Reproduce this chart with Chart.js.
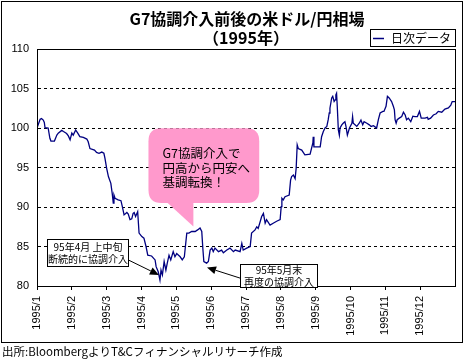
<!DOCTYPE html>
<html><head><meta charset="utf-8">
<script src="https://cdn.jsdelivr.net/npm/chart.js@4"></script>
<style>html,body{margin:0;padding:0;background:#fff}canvas{display:block}</style>
</head><body>
<canvas id="c" width="468" height="362"></canvas>
<script>
const titleLines = ['G7協調介入前後の米ドル/円相場', '（1995年）'];
const legendLabel = '日次データ';
const sourceNote = '出所:BloombergよりT&Cフィナンシャルリサーチ作成';
const monthLabels = ['1995/1','1995/2','1995/3','1995/4','1995/5','1995/6','1995/7','1995/8','1995/9','1995/10','1995/11','1995/12'];
const yTicks = [80, 85, 90, 95, 100, 105, 110];
const calloutLines = ['G7協調介入で', '円高から円安へ', '基調転換！'];
const note1Lines = ['95年4月 上中旬', '断続的に協調介入'];
const note2Lines = ['95年5月末', '再度の協調介入'];

// x position in months since 1995/1/1
const monthPos = [0.00,0.09,0.13,0.18,0.21,0.23,0.32,0.37,0.40,0.50,
0.57,0.61,0.71,0.76,0.85,0.90,0.95,1.00,1.04,1.11,
1.17,1.23,1.33,1.43,1.47,1.52,1.65,1.71,1.78,1.86,
1.92,1.95,2.00,2.05,2.12,2.16,2.19,2.21,2.24,2.33,
2.41,2.45,2.50,2.58,2.62,2.67,2.72,2.76,2.79,2.83,
2.89,2.93,3.01,3.07,3.13,3.18,3.29,3.39,3.42,3.48,
3.53,3.56,3.60,3.65,3.70,3.74,3.79,3.84,3.91,3.96,
4.01,4.11,4.17,4.23,4.30,4.36,4.44,4.54,4.61,4.68,
4.73,4.76,4.79,4.87,4.92,4.97,5.02,5.06,5.11,5.21,
5.30,5.35,5.45,5.54,5.64,5.69,5.83,5.88,5.92,6.02,
6.12,6.16,6.26,6.31,6.35,6.45,6.50,6.55,6.59,6.69,
6.78,6.88,6.98,7.01,7.03,7.07,7.12,7.24,7.28,7.31,
7.36,7.41,7.44,7.47,7.50,7.60,7.69,7.84,7.92,7.93,
7.95,8.03,8.13,8.17,8.22,8.27,8.32,8.36,8.39,8.41,
8.46,8.49,8.53,8.56,8.58,8.60,8.62,8.65,8.68,8.70,
8.75,8.79,8.84,8.87,8.91,8.97,9.04,9.06,9.08,9.13,
9.18,9.25,9.30,9.35,9.39,9.47,9.54,9.59,9.66,9.75,
9.80,9.85,9.93,9.96,10.02,10.06,10.11,10.18,10.23,10.26,
10.28,10.31,10.34,10.40,10.47,10.52,10.57,10.61,10.66,10.73,
10.79,10.85,10.92,10.98,11.03,11.14,11.21,11.23,11.30,11.38,
11.46,11.52,11.62,11.71,11.81,11.88,11.92,12.00];

const usdJpy = [100.0,101.1,101.2,101.0,100.7,100.05,100.0,98.7,98.35,98.35,
99.1,99.35,99.7,99.55,99.3,99.0,98.5,99.35,99.1,99.75,
99.35,98.9,98.8,98.6,98.25,97.4,97.2,96.9,96.8,96.95,
96.8,96.2,94.9,93.85,93.0,91.7,90.5,91.5,91.1,90.9,
90.8,90.05,89.0,89.3,89.1,88.4,88.5,89.2,89.3,88.8,
89.4,86.7,86.25,86.05,85.0,83.9,83.8,83.3,82.45,81.8,
80.75,82.0,81.4,83.1,82.0,82.9,83.9,83.3,84.35,83.7,
84.1,83.7,83.3,83.7,86.7,86.7,86.9,86.9,87.1,87.35,
86.9,84.8,83.1,82.9,83.1,84.55,84.8,84.35,84.8,84.35,
84.55,84.2,84.55,84.8,84.35,84.55,84.35,85.4,84.55,84.8,
85.0,86.7,87.1,87.5,87.3,88.8,89.2,87.95,88.4,87.7,
87.95,88.2,88.4,90.05,91.1,90.9,91.3,91.5,93.4,93.85,
94.05,93.6,94.9,97.85,97.4,97.2,96.6,96.7,98.1,98.9,
97.6,97.6,97.6,98.9,99.55,100.0,100.2,101.05,101.9,102.5,
103.8,104.0,103.35,103.55,104.2,104.4,102.75,99.8,99.1,100.0,
100.4,100.6,100.8,100.2,99.1,100.0,100.6,101.45,100.6,100.4,
100.2,100.6,101.0,100.4,100.8,100.6,100.4,100.2,100.3,100.0,
101.05,101.9,102.1,102.1,102.75,104.0,103.8,103.35,102.75,102.3,
101.05,100.6,101.05,101.25,101.45,102.0,101.65,101.05,101.25,100.8,
101.5,101.45,101.45,102.1,101.25,101.25,101.35,101.1,101.25,101.65,
101.8,102.1,102.0,102.4,102.55,102.9,103.35,103.35];

const JP = '"Noto Sans CJK JP", sans-serif';
const LAT = '"Liberation Sans", Arial, sans-serif';

function rrPath(ctx, x, y, w, h, r) {
  ctx.moveTo(x + r, y);
  ctx.lineTo(x + w - r, y); ctx.quadraticCurveTo(x + w, y, x + w, y + r);
  ctx.lineTo(x + w, y + h - r); ctx.quadraticCurveTo(x + w, y + h, x + w - r, y + h);
  ctx.lineTo(x + r, y + h); ctx.quadraticCurveTo(x, y + h, x, y + h - r);
  ctx.lineTo(x, y + r); ctx.quadraticCurveTo(x, y, x + r, y);
  ctx.closePath();
}
function arrow(ctx, x1, y1, x2, y2) {
  ctx.save();
  ctx.strokeStyle = '#000'; ctx.fillStyle = '#000'; ctx.lineWidth = 1;
  const a = Math.atan2(y2 - y1, x2 - x1), L = 9, W = 4;
  const bx = x2 - L * Math.cos(a), by = y2 - L * Math.sin(a);
  ctx.beginPath(); ctx.moveTo(x1, y1); ctx.lineTo(bx, by); ctx.stroke();
  ctx.beginPath(); ctx.moveTo(x2, y2);
  ctx.lineTo(bx + W * Math.sin(a), by - W * Math.cos(a));
  ctx.lineTo(bx - W * Math.sin(a), by + W * Math.cos(a));
  ctx.closePath(); ctx.fill();
  ctx.restore();
}
function noteBox(ctx, x1, y1, x2, y2, lines) {
  ctx.save();
  ctx.fillStyle = '#fff'; ctx.strokeStyle = '#000'; ctx.lineWidth = 1;
  const l = Math.round(x1) + 0.5, t = Math.round(y1) + 0.5, w = Math.round(x2 - x1), h = Math.round(y2 - y1);
  ctx.fillRect(l, t, w, h); ctx.strokeRect(l, t, w, h);
  ctx.fillStyle = '#000'; ctx.font = '10px ' + JP; ctx.textAlign = 'center'; ctx.textBaseline = 'middle';
  const cx = l + w / 2, lh = 11.5, cy = t + h / 2;
  lines.forEach((s, i) => ctx.fillText(s, cx, cy + (i - (lines.length - 1) / 2) * lh));
  ctx.restore();
}

const decor = {
  id: 'decor',
  beforeDraw(chart) {
    const ctx = chart.ctx;
    ctx.save();
    ctx.fillStyle = '#fff'; ctx.fillRect(0, 0, chart.width, chart.height);
    ctx.strokeStyle = '#000'; ctx.lineWidth = 1;
    ctx.strokeRect(1.5, 1.5, 461, 341);
    ctx.restore();
  },
  afterDraw(chart) {
    const ctx = chart.ctx, ca = chart.chartArea;
    const xs = chart.scales.x, ys = chart.scales.y;
    const px = v => xs.getPixelForValue(v), py = v => ys.getPixelForValue(v);
    ctx.save();
    ctx.strokeStyle = '#000'; ctx.lineWidth = 1;
    ctx.strokeRect(Math.round(ca.left) + 0.5, Math.round(ca.top) + 0.5, Math.round(ca.right - ca.left), Math.round(ca.bottom - ca.top));
    ctx.fillStyle = '#000'; ctx.textAlign = 'center'; ctx.textBaseline = 'middle';
    ctx.font = 'bold 16px ' + JP;
    const tcx = (ca.left + ca.right) / 2;
    ctx.fillText(titleLines[0], tcx + 1, 19);
    ctx.fillText(titleLines[1], tcx, 38);
    const lx = Math.round(ca.right) - 85;
    ctx.fillStyle = '#fff'; ctx.fillRect(lx + 0.5, 29.5, 85, 17);
    ctx.strokeStyle = '#000'; ctx.strokeRect(lx + 0.5, 29.5, 85, 17);
    ctx.strokeStyle = '#000080'; ctx.lineWidth = 1.5;
    ctx.beginPath(); ctx.moveTo(lx + 3, 38.5); ctx.lineTo(lx + 14, 38.5); ctx.stroke();
    ctx.fillStyle = '#000'; ctx.font = '12px ' + JP; ctx.textAlign = 'left';
    ctx.fillText(legendLabel, lx + 21, 38.5);
    const cl = px(3.20), cr = px(6.38), ct = py(99.96), cb = py(90.5);
    ctx.fillStyle = '#FF99CC';
    ctx.beginPath(); rrPath(ctx, cl, ct, cr - cl, cb - ct, 13); ctx.fill();
    ctx.beginPath(); ctx.moveTo(px(3.72), cb - 1); ctx.lineTo(px(4.49), cb - 1); ctx.lineTo(px(4.49), py(87.53)); ctx.closePath(); ctx.fill();
    ctx.fillStyle = '#000'; ctx.font = '12.5px ' + JP; ctx.textAlign = 'left'; ctx.textBaseline = 'middle';
    calloutLines.forEach((s, i) => ctx.fillText(s, cl + 14, ct + 25 + i * 14.5));
    arrow(ctx, px(2.62), py(83.3), px(3.50), py(81.4));
    noteBox(ctx, px(0.30), py(85.91), px(2.62), py(82.53), note1Lines);
    arrow(ctx, px(5.83), py(81.0), px(4.88), py(82.34));
    noteBox(ctx, px(5.83), py(82.78), px(8.05), py(79.84), note2Lines);
    ctx.fillStyle = '#000'; ctx.font = '11.5px ' + JP; ctx.textAlign = 'left'; ctx.textBaseline = 'middle';
    ctx.fillText(sourceNote, 2, 352);
    ctx.restore();
  }
};

new Chart(document.getElementById('c'), {
  type: 'line',
  data: {
    datasets: [{
      label: legendLabel,
      data: monthPos.map((m, i) => ({ x: m, y: usdJpy[i] })),
      borderColor: '#000080', borderWidth: 1.3, pointRadius: 0, tension: 0, fill: false
    }]
  },
  options: {
    responsive: false, animation: false,
    layout: { padding: { top: 49, right: 13, left: 0, bottom: 0 } },
    plugins: { legend: { display: false }, title: { display: false }, tooltip: { enabled: false } },
    scales: {
      x: {
        type: 'linear', min: 0, max: 12,
        afterBuildTicks: s => { s.ticks = monthLabels.map((_, i) => ({ value: i })); },
        afterFit: s => { s.height = 76; },
        ticks: { callback: v => monthLabels[v] ?? '', autoSkip: false, minRotation: 90, maxRotation: 90, padding: 6, color: '#000', font: { family: LAT, size: 11 } },
        grid: { drawOnChartArea: false, drawTicks: true, tickLength: 4, color: '#000', lineWidth: 1 },
        border: { display: true, color: '#000', width: 1 }
      },
      y: {
        min: 80, max: 110,
        afterBuildTicks: s => { s.ticks = yTicks.map(v => ({ value: v })); },
        afterFit: s => { s.width = 37; },
        ticks: { padding: 8, color: '#000', font: { family: LAT, size: 11 } },
        grid: { drawTicks: false, color: '#000', lineWidth: 1 },
        border: { display: true, color: '#000', width: 1, dash: [3, 3] }
      }
    }
  },
  plugins: [decor]
});
</script>
</body></html>
